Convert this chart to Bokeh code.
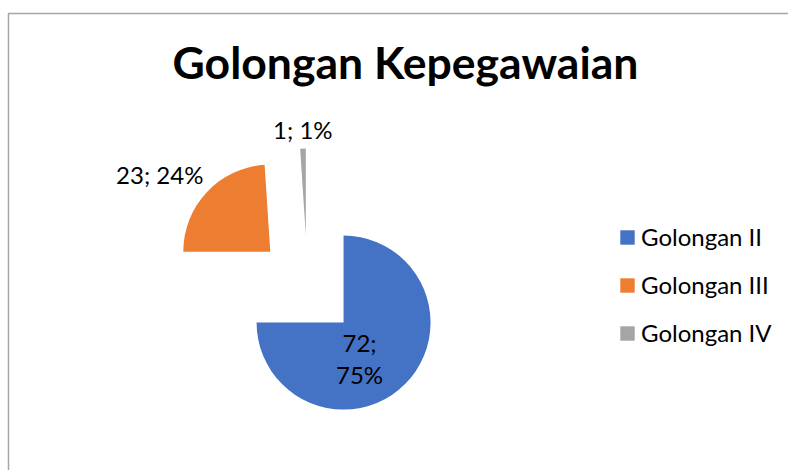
import numpy as np
from bokeh.plotting import figure
from bokeh.models import Range1d, ColumnDataSource, Legend, LegendItem
from bokeh.core.properties import value
from bokeh.embed import file_html
from bokeh.resources import INLINE

# ---- data ----
title = "Golongan Kepegawaian"
categories = ["Golongan II", "Golongan III", "Golongan IV"]
counts = [72, 23, 1]
colors = ["#4472C4", "#ED7D31", "#A5A5A5"]

# ---- styles / layout (screen px) ----
W, H = 788, 470
cx, cy = 307, 286          # pie centre (screen coords)
R = 87                      # radius px
explode = 51                # explosion distance px
label_wrap = [True, False, False]
label_offsets = [(16, 36), (-110.5, -77.5), (-3, -105.6)]  # label centre offset from slice apex (screen dx, dy)

def sy(y):
    return H - y

total = sum(counts)
fr = np.array(counts) / total
cum = np.concatenate([[0], np.cumsum(fr)])
# Excel: start at 12 o'clock, clockwise
start = np.pi / 2 - cum[1:] * 2 * np.pi
end = np.pi / 2 - cum[:-1] * 2 * np.pi
mid = (start + end) / 2
ax = cx + explode * np.cos(mid)
ay = sy(cy) + explode * np.sin(mid)

pcts = [int(round(f * 100)) for f in fr]
texts = []
for c, pc, wrap in zip(counts, pcts, label_wrap):
    texts.append(f"{c};\n{pc}%" if wrap else f"{c}; {pc}%")
lx = [a + o[0] for a, o in zip(ax, label_offsets)]
ly = [a - o[1] for a, o in zip(ay, label_offsets)]

src = ColumnDataSource(dict(x=ax, y=ay, start=start, end=end, color=colors, cat=categories))
lsrc = ColumnDataSource(dict(x=lx, y=ly, text=texts))

p = figure(width=W, height=H, x_range=Range1d(0, W), y_range=Range1d(0, H),
           output_backend="svg", toolbar_location=None,
           x_axis_location=None, y_axis_location=None, min_border=0)
p.grid.visible = False
p.outline_line_color = None
p.background_fill_color = "white"
p.border_fill_color = "white"

# chart area border
p.quad(left=[8], right=[W + 20], top=[sy(13)], bottom=[-20],
       fill_alpha=0, line_color="#A6A6A6", line_width=1.5)

wr = p.wedge(x="x", y="y", radius=R, start_angle="start", end_angle="end",
             fill_color="color", line_color=None, source=src)

p.text(x="x", y="y", text="text", source=lsrc, text_align="center", text_baseline="middle",
       text_font=value("Lato"), text_font_size="24px", text_color="#000000", text_line_height=1.08)

p.text(x=[405], y=[sy(61)], text=[title], text_align="center", text_baseline="alphabetic",
       text_font=value("Lato"), text_font_style="bold", text_font_size="44.5px", text_color="#000000")

items = [LegendItem(label=c, renderers=[wr], index=i) for i, c in enumerate(categories)]
legend = Legend(items=items, location=(618, 123), orientation="vertical",
                border_line_color=None, background_fill_alpha=0, padding=0, margin=0,
                glyph_width=18, glyph_height=18, label_height=18, spacing=19, label_standoff=5,
                label_text_font="Lato", label_text_font_size="24px", label_text_color="#000000",
                label_text_baseline="middle")
p.add_layout(legend, "center")

open("out.html", "w").write(file_html(p, INLINE))
